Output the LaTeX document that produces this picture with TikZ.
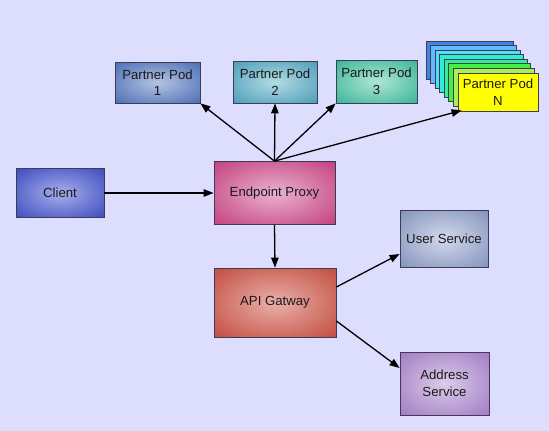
\documentclass[tikz,border=0pt]{standalone}
\usepackage{fontspec}
\setmainfont{Liberation Sans}
\usetikzlibrary{arrows.meta}
\definecolor{bgc}{HTML}{DDDDFD}
\definecolor{edgec}{HTML}{3C3C55}
\definecolor{txtc}{HTML}{1A1A1A}
\definecolor{podAo}{HTML}{4A6DB4}\definecolor{podAi}{HTML}{B3C3E3}
\definecolor{podBo}{HTML}{4B9BB8}\definecolor{podBi}{HTML}{B2DCE3}
\definecolor{podCo}{HTML}{38B496}\definecolor{podCi}{HTML}{B0E6D6}
\definecolor{clio}{HTML}{3A4BBE}\definecolor{clii}{HTML}{A7AEEB}
\definecolor{proxo}{HTML}{C23F7E}\definecolor{proxi}{HTML}{EAB2CF}
\definecolor{gwo}{HTML}{C24B3E}\definecolor{gwi}{HTML}{E9B0A9}
\definecolor{usro}{HTML}{8292BB}\definecolor{usri}{HTML}{D4D9EC}
\definecolor{addo}{HTML}{A279C4}\definecolor{addi}{HTML}{DACDE8}
\definecolor{st0}{HTML}{3F86E0}
\definecolor{st1}{HTML}{66B8FF}
\definecolor{st2}{HTML}{55DDF5}
\definecolor{st3}{HTML}{2EEED8}
\definecolor{st4}{HTML}{33EE99}
\definecolor{st5}{HTML}{44EE44}
\definecolor{st6}{HTML}{AAEE55}
\definecolor{podNc}{HTML}{FFFF00}
\colorlet{innc}{white}
\colorlet{outc}{black}
\pgfdeclareradialshading[innc,outc]{softrad}{\pgfpoint{0bp}{0bp}}{%
  color(0bp)=(innc); color(36bp)=(outc); color(50bp)=(outc)}
\tikzset{
  box/.style={draw=edgec, line width=0.8pt, inner sep=0pt, align=center,
    text=txtc, font=\fontsize{13.2}{16.5}\selectfont},
  sbox/.style 2 args={box, /utils/exec={\colorlet{innc}{#2}\colorlet{outc}{#1}},
    shading=softrad},
  conn/.style={line width=1.3pt, -{Triangle[length=10pt,width=7.5pt]}},
}
\begin{document}
\begin{tikzpicture}[x=1pt,y=-1pt]
\fill[bgc] (0,0) rectangle (549,431);
\useasboundingbox (0,0) rectangle (549,431);
% stacked partner pods behind N
\foreach \i/\c in {0/st0,1/st1,2/st2,3/st3,4/st4,5/st5,6/st6}{
  \draw[fill=\c, draw=edgec, line width=0.8pt]
    ({426+4.57*\i},{41+4.57*\i}) rectangle ({513+3.57*\i},{79+4.57*\i});
}
\node[box, fill=podNc, minimum width=80pt, minimum height=38pt] (podN) at (498,92) {Partner Pod\\N};
\node[sbox={podAo}{podAi}, minimum width=85pt, minimum height=41pt] (pod1) at (157.5,82.5) {Partner Pod\\1};
\node[sbox={podBo}{podBi}, minimum width=84pt, minimum height=42pt] (pod2) at (275,82) {Partner Pod\\2};
\node[sbox={podCo}{podCi}, minimum width=81pt, minimum height=43pt] (pod3) at (376.5,81.5) {Partner Pod\\3};
\node[sbox={clio}{clii}, minimum width=88pt, minimum height=49pt] (client) at (60,193) {Client};
\node[sbox={proxo}{proxi}, minimum width=121pt, minimum height=63pt] (proxy) at (274.5,193) {Endpoint Proxy};
\node[sbox={gwo}{gwi}, minimum width=122pt, minimum height=69pt] (gw) at (275,302.5) {API Gatway};
\node[sbox={usro}{usri}, minimum width=88pt, minimum height=57pt] (user) at (444,238.5) {User Service};
\node[sbox={addo}{addi}, minimum width=89pt, minimum height=63pt] (addr) at (444.5,383.5) {Address\\Service};
% connectors
\draw[conn] (proxy.north) -- (pod1.south east);
\draw[conn] (proxy.north) -- (pod2.south);
\draw[conn] (proxy.north) -- (pod3.south west);
\draw[conn] (proxy.north) -- ([xshift=4pt,yshift=1pt]podN.south west);
\draw[conn] (client.east) -- (proxy.west);
\draw[conn] (proxy.south) -- (gw.north);
\draw[conn] ([yshift=15.5pt]gw.east) -- ([yshift=-15.5pt]user.west);
\draw[conn] ([yshift=-18.5pt]gw.east) -- ([yshift=15.5pt]addr.west);
\end{tikzpicture}
\end{document}
